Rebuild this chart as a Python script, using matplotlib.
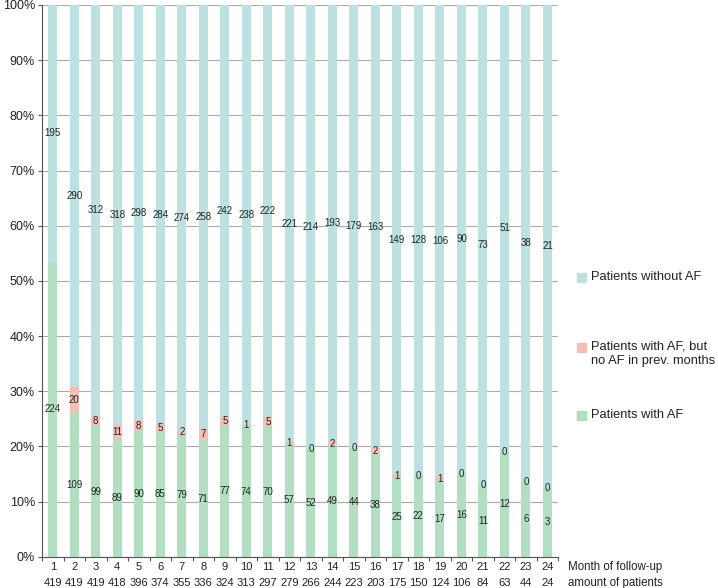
import matplotlib
matplotlib.use("Agg")
import matplotlib.pyplot as plt
import numpy as np

months = list(range(1, 25))
totals = [419, 419, 419, 418, 396, 374, 355, 336, 324, 313, 297, 279,
          266, 244, 223, 203, 175, 150, 124, 106, 84, 63, 44, 24]
with_af = [224, 109, 99, 89, 90, 85, 79, 71, 77, 74, 70, 57,
           52, 49, 44, 38, 25, 22, 17, 16, 11, 12, 6, 3]
new_af = [None, 20, 8, 11, 8, 5, 2, 7, 5, 1, 5, 1,
          0, 2, 0, 2, 1, 0, 1, 0, 0, 0, 0, 0]
without_af = [195, 290, 312, 318, 298, 284, 274, 258, 242, 238, 222, 221,
              214, 193, 179, 163, 149, 128, 106, 90, 73, 51, 38, 21]
y_ticks = [0, 10, 20, 30, 40, 50, 60, 70, 80, 90, 100]
legend_labels = ["Patients without AF", "Patients with AF, but\nno AF in prev. months", "Patients with AF"]
row_titles = ["Month of follow-up", "amount of patients"]

c_teal = "#bde0e0"
c_pink = "#f4bfb6"
c_green = "#b2dfc2"
txt = "#222222"

plt.rcParams['font.family'] = ['Liberation Sans', 'DejaVu Sans']

fig = plt.figure(figsize=(7.18, 5.88), dpi=100)
ax = fig.add_axes([0.0585, 0.053, 0.719, 0.9385])

x = np.arange(len(months))
tot = np.array(totals, float)
g = np.array(with_af, float) / tot * 100
p = np.array([v if v is not None else 0 for v in new_af], float) / tot * 100
t = np.array(without_af, float) / tot * 100

w = 0.42
ax.bar(x, g, width=w, color=c_green, zorder=2)
ax.bar(x, p, width=w, bottom=g, color=c_pink, zorder=2)
ax.bar(x, t, width=w, bottom=g + p, color=c_teal, zorder=2)

fs = 7
for i in range(len(months)):
    ax.text(x[i], g[i] / 2, str(with_af[i]), ha='center', va='center', fontsize=fs, color=txt, zorder=3)
    if new_af[i] is not None:
        ax.text(x[i], g[i] + p[i] / 2, str(new_af[i]), ha='center', va='center', fontsize=fs, color=txt, zorder=3)
    ax.text(x[i], g[i] + p[i] + t[i] / 2, str(without_af[i]), ha='center', va='center', fontsize=fs, color=txt, zorder=3)

ax.set_xlim(-0.5, len(months) - 0.5)
ax.set_ylim(0, 100)
ax.set_yticks(y_ticks)
ax.set_yticklabels([f"{v}%" for v in y_ticks], fontsize=9, color=txt)
ax.yaxis.grid(True, color="#aaaaaa", linewidth=0.8, zorder=0)
ax.set_axisbelow(True)

ax.set_xticks(np.arange(len(months) + 1) - 0.5)
ax.set_xticklabels([])
ax.tick_params(axis='x', length=3, color="#555555", width=0.8)
ax.tick_params(axis='y', length=3, color="#555555", width=0.8, pad=2)

ah = 0.9385 * 588
y1 = -10.5 / ah
y2 = -26 / ah
tf = ax.get_xaxis_transform()
for i in range(len(months)):
    ax.text(x[i], y1, str(months[i]), transform=tf, ha='center', va='center', fontsize=8, color=txt)
    ax.text(x[i], y2, str(totals[i]), transform=tf, ha='center', va='center', fontsize=8, color=txt)
ax.text(len(months) - 0.5 + 0.45, y1, row_titles[0], transform=tf, ha='left', va='center', fontsize=8.3, color=txt, clip_on=False)
ax.text(len(months) - 0.5 + 0.45, y2, row_titles[1], transform=tf, ha='left', va='center', fontsize=8.3, color=txt, clip_on=False)

for s in ['top', 'right']:
    ax.spines[s].set_visible(False)
ax.spines['left'].set_color("#555555")
ax.spines['bottom'].set_color("#555555")
ax.spines['left'].set_linewidth(0.8)
ax.spines['bottom'].set_linewidth(0.8)

# legend
leg_colors = [c_teal, c_pink, c_green]
leg_y = [277, 347, 415]
for lab, col, yy in zip(legend_labels, leg_colors, leg_y):
    yf = 1 - yy / 588
    fig.patches.append(plt.Rectangle((577 / 718, yf - 4.5 / 588), 9 / 718, 9 / 588,
                                     transform=fig.transFigure, color=col, figure=fig))
    if '\n' in lab:
        fig.text(591 / 718, yf - 6.5 / 588, lab, ha='left', va='center', fontsize=9.3, color=txt, linespacing=1.25)
    else:
        fig.text(591 / 718, yf, lab, ha='left', va='center', fontsize=9.3, color=txt)

fig.savefig("out.png", dpi=100)
